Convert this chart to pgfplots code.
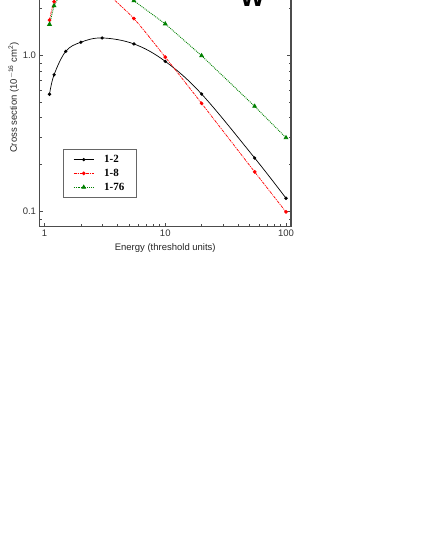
\documentclass[border=0pt]{standalone}
\usepackage{pgfplots}
\pgfplotsset{compat=1.18}
\usepackage{fontspec}
\setmainfont{Liberation Sans}
\setsansfont{Liberation Sans}
\newfontfamily\legfont{Liberation Serif}

\begin{document}
\begin{tikzpicture}[x=1pt,y=1pt]
\useasboundingbox (0,0) rectangle (425,-550);
\clip (0,0) rectangle (425,-550);
\begin{axis}[
  at={(39.5pt,-226.8pt)}, anchor=south west,
  scale only axis, width=251.5pt, height=258.6pt,
  xmode=log, ymode=log,
  xmin=0.909, xmax=110, ymin=0.08, ymax=3.64,
  xtick={1,10,100}, xticklabels={1,10,100},
  minor xtick={2,3,4,5,6,7,8,9,20,30,40,50,60,70,80,90},
  ytick={0.1,1}, yticklabels={0.1,1.0},
  minor ytick={0.09,0.2,0.3,0.4,0.5,0.6,0.7,0.8,0.9,2,3},
  tick align=inside,
  major tick length=4pt, minor tick length=2.5pt,
  axis line style={black!70, line width=1.1pt},
  tick style={black!70, line width=0.6pt},
  ticklabel style={font=\sffamily\fontsize{9.5}{11}\selectfont, text=black!80},
  /pgf/number format/assume math mode=true,
  xlabel={Energy (threshold units)},
  ylabel={Cross section (10\textsuperscript{$-$16} cm\textsuperscript{2})},
  ylabel shift=-3pt,
  label style={font=\sffamily\fontsize{9.5}{11}\selectfont, text=black!85},
  legend cell align=left,
  legend style={at={(0.0934,0.3009)}, anchor=north west,
    draw=black!60, line width=0.6pt,
    font=\legfont\bfseries\fontsize{11}{13}\selectfont,
    inner xsep=10pt, inner ysep=4pt, row sep=1pt,
    /tikz/every odd column/.append style={column sep=8pt}},
  legend image code/.code={\draw[mark repeat=2,mark phase=2,#1]
    plot coordinates {(0pt,0pt) (10pt,0pt) (20pt,0pt)};},
]
\addplot[black, line width=0.7pt, smooth, tension=0.6, mark=*, mark size=1.3pt,
  mark options={solid}] coordinates {
  (1.1,0.566) (1.2,0.755) (1.5,1.067) (2,1.22) (3,1.30) (5.5,1.19)
  (10,0.92) (20,0.568) (55,0.221) (100,0.122)};
\addlegendentry{1-2}
\addplot[red, line width=0.7pt, smooth, tension=0.4, dash pattern=on 3pt off 1pt on 1pt off 1pt,
  mark=*, mark size=1.5pt, mark options={solid}] coordinates {
  (1.1,1.69) (1.2,2.22) (1.5,2.9) (2,3.0) (3,2.65) (5.5,1.73)
  (10,0.98) (20,0.495) (55,0.18) (100,0.0996)};
\addlegendentry{1-8}
\addplot[green!50!black, line width=0.9pt, densely dotted,
  mark=triangle*, mark size=2pt, mark options={solid}] coordinates {
  (1.1,1.59) (1.2,2.09) (1.5,2.9) (2,3.2) (3,3.0) (5.5,2.25)
  (10,1.60) (20,1.0) (55,0.474) (100,0.298)};
\addlegendentry{1-76}
\end{axis}
\node[anchor=base, font=\sffamily\bfseries\fontsize{26}{26}\selectfont] at (252.5,-6.5) {W};
\end{tikzpicture}
\end{document}
